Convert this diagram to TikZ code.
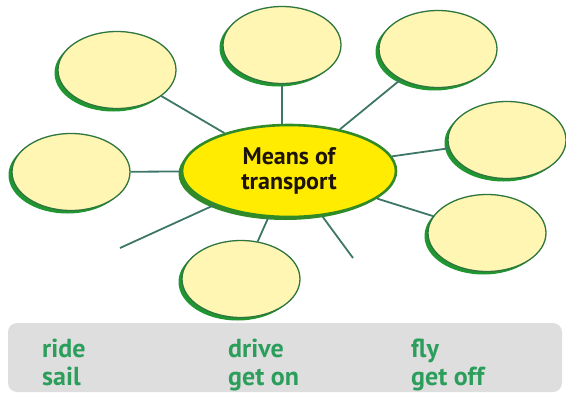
\documentclass[tikz,border=0pt]{standalone}
\usepackage{fontspec}
\setmainfont{PT Sans}
\usetikzlibrary{shapes.geometric}
\definecolor{rim}{RGB}{46,118,62}
\definecolor{rimshade}{RGB}{32,150,48}
\definecolor{cream}{RGB}{255,246,180}
\definecolor{hubyellow}{RGB}{255,236,0}
\definecolor{hubrim}{RGB}{48,138,40}
\definecolor{linkteal}{RGB}{62,118,104}
\definecolor{wordgreen}{RGB}{44,158,92}
\definecolor{panelgray}{RGB}{222,222,222}
\tikzset{
  bubble/.style={ellipse, draw=rim, fill=cream, line width=1.3pt, inner sep=0pt,
    minimum width=118pt, minimum height=77pt,
    preaction={fill=rimshade, transform canvas={shift={(-3.5pt,-3pt)}}}},
  hub/.style={ellipse, draw=hubrim, fill=hubyellow, line width=2.6pt, inner sep=0pt,
    minimum width=214pt, minimum height=92pt, align=center, text=black!85!brown,
    font=\fontsize{24}{25}\selectfont\bfseries,
    preaction={fill=hubrim, transform canvas={shift={(-3.5pt,-3pt)}}}},
  link/.style={draw=linkteal, line width=1.8pt},
  panel/.style={rectangle, rounded corners=9pt, fill=panelgray, inner sep=0pt,
    minimum width=554pt, minimum height=69pt},
  word/.style={anchor=base west, inner sep=0pt, text=wordgreen,
    font=\fontsize{26}{30}\selectfont\bfseries}
}
\begin{document}
\begin{tikzpicture}[x=1pt, y=-1pt]
  \useasboundingbox (0,0) rectangle (566,394);
  % word bank
  \node[panel] (bank) at (285,357.5) {};
  \node[word] (ride) at (42,357) {ride};
  \node[word] (sail) at (42,385) {sail};
  \node[word] (drive) at (228,357) {drive};
  \node[word] (geton) at (228,385) {get on};
  \node[word] (fly) at (411,357) {fly};
  \node[word] (getoff) at (411,385) {get off};
  % centre
  \node[hub] (hub) at (289,171) {Means of\\transport};
  % empty bubbles
  \node[bubble] (tl) at (117,70) {};
  \node[bubble] (tm) at (282,45) {};
  \node[bubble] (tr) at (438,49) {};
  \node[bubble] (rt) at (507,140) {};
  \node[bubble] (rb) at (487,233) {};
  \node[bubble] (bm) at (241,279) {};
  \node[bubble] (lf) at (71,172) {};
  % loose ends
  \coordinate (tailw) at (120,248);
  \coordinate (tails) at (353,258);
  \draw[link] (tl) -- (hub);
  \draw[link] (tm.south) -- (tm.south |- hub.north);
  \draw[link] (tr) -- (hub);
  \draw[link] (rt) -- (hub);
  \draw[link] (rb) -- (hub);
  \draw[link] (bm) -- (hub);
  \draw[link] (lf) -- (hub);
  \draw[link] (hub) -- (tailw);
  \draw[link] (hub) -- (tails);
\end{tikzpicture}
\end{document}
